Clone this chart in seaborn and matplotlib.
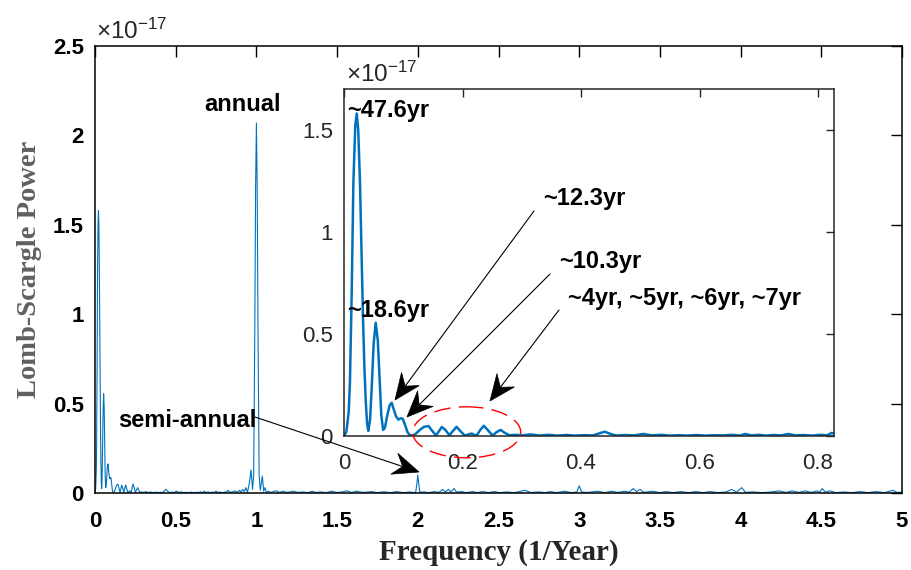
import numpy as np
import pandas as pd
import matplotlib
matplotlib.use("Agg")
import matplotlib.pyplot as plt
import seaborn as sns
from matplotlib.transforms import Affine2D
from matplotlib.patches import Polygon, Ellipse
from matplotlib.lines import Line2D

# ---------------- data (power in units of 1e-17) ----------------
freq = [
    0.000, 0.004, 0.008, 0.010, 0.013, 0.0158, 0.019, 0.0215, 0.024, 0.027,
    0.030, 0.032, 0.0345, 0.0366, 0.039, 0.041, 0.044, 0.047, 0.050, 0.0535,
    0.057, 0.060, 0.063, 0.066, 0.069, 0.073, 0.077, 0.0805, 0.084, 0.088,
    0.092, 0.096, 0.099, 0.103, 0.107, 0.111, 0.116, 0.120, 0.128, 0.135,
    0.1425, 0.149, 0.155, 0.160, 0.165, 0.171, 0.178, 0.184, 0.190, 0.197,
    0.204, 0.210, 0.2155, 0.221, 0.2245, 0.230, 0.236, 0.243, 0.251, 0.257,
    0.2645, 0.271, 0.279, 0.290, 0.300, 0.315, 0.330, 0.345, 0.360, 0.375,
    0.390, 0.405, 0.420, 0.430, 0.440, 0.450, 0.460, 0.475, 0.490, 0.505,
    0.520, 0.535, 0.550, 0.565, 0.580, 0.595, 0.610, 0.625, 0.640, 0.655,
    0.668, 0.677, 0.688, 0.700, 0.712, 0.725, 0.737, 0.750, 0.762, 0.775,
    0.790, 0.805, 0.815, 0.823, 0.835, 0.850, 0.865, 0.880, 0.895, 0.905,
    0.915, 0.925, 0.935, 0.945, 0.957, 0.967, 0.976, 0.983, 0.990, 0.995,
    1.000, 1.005, 1.010, 1.017, 1.024, 1.030, 1.037, 1.045, 1.053, 1.062,
    1.075, 1.090, 1.110, 1.126, 1.140, 1.165, 1.190, 1.230, 1.260, 1.290,
    1.320, 1.343, 1.370, 1.400, 1.430, 1.466, 1.500, 1.530, 1.560, 1.590,
    1.620, 1.660, 1.714, 1.750, 1.790, 1.830, 1.870, 1.910, 1.950, 1.975,
    1.987, 1.994, 2.000, 2.006, 2.013, 2.040, 2.070, 2.100, 2.130, 2.154,
    2.170, 2.190, 2.205, 2.225, 2.240, 2.270, 2.300, 2.340, 2.370, 2.400,
    2.440, 2.470, 2.510, 2.550, 2.600, 2.664, 2.700, 2.750, 2.790, 2.820,
    2.860, 2.910, 2.950, 2.985, 3.000, 3.015, 3.050, 3.116, 3.160, 3.200,
    3.240, 3.280, 3.310, 3.335, 3.355, 3.377, 3.400, 3.457, 3.500, 3.540,
    3.580, 3.630, 3.680, 3.720, 3.770, 3.810, 3.860, 3.910, 3.945, 3.975,
    4.007, 4.030, 4.080, 4.130, 4.180, 4.240, 4.280, 4.320, 4.360, 4.400,
    4.440, 4.470, 4.490, 4.506, 4.525, 4.554, 4.590, 4.640, 4.690, 4.740,
    4.790, 4.840, 4.890, 4.944, 4.970, 5.000,
]
power = [
    0.000, 0.020, 0.120, 0.260, 0.700, 1.240, 1.520, 1.580, 1.500, 1.240,
    0.850, 0.585, 0.330, 0.176, 0.060, 0.025, 0.080, 0.250, 0.450, 0.555,
    0.470, 0.280, 0.100, 0.030, 0.040, 0.100, 0.150, 0.163, 0.130, 0.095,
    0.080, 0.087, 0.085, 0.055, 0.020, 0.004, 0.003, 0.008, 0.030, 0.045,
    0.049, 0.025, 0.003, 0.022, 0.044, 0.030, 0.004, 0.025, 0.045, 0.022,
    0.002, 0.008, 0.012, 0.004, 0.005, 0.030, 0.050, 0.028, 0.002, 0.018,
    0.030, 0.016, 0.004, 0.006, 0.003, 0.008, 0.002, 0.006, 0.002, 0.005,
    0.002, 0.004, 0.003, 0.012, 0.021, 0.010, 0.002, 0.005, 0.003, 0.010,
    0.003, 0.006, 0.002, 0.004, 0.002, 0.005, 0.002, 0.004, 0.003, 0.006,
    0.002, 0.010, 0.003, 0.006, 0.002, 0.005, 0.003, 0.010, 0.003, 0.005,
    0.002, 0.006, 0.003, 0.015, 0.006, 0.005, 0.012, 0.004, 0.015, 0.005,
    0.020, 0.008, 0.030, 0.004, 0.060, 0.129, 0.020, 0.100, 0.900, 1.700,
    2.070, 1.700, 0.900, 0.100, 0.015, 0.050, 0.095, 0.010, 0.030, 0.004,
    0.010, 0.003, 0.010, 0.012, 0.003, 0.010, 0.003, 0.010, 0.003, 0.006,
    0.002, 0.010, 0.003, 0.006, 0.002, 0.010, 0.003, 0.006, 0.012, 0.003,
    0.010, 0.003, 0.008, 0.002, 0.007, 0.002, 0.008, 0.002, 0.006, 0.002,
    0.005, 0.050, 0.100, 0.050, 0.004, 0.006, 0.002, 0.008, 0.003, 0.020,
    0.006, 0.020, 0.006, 0.025, 0.005, 0.008, 0.002, 0.008, 0.002, 0.008,
    0.002, 0.008, 0.002, 0.006, 0.002, 0.015, 0.003, 0.006, 0.002, 0.008,
    0.002, 0.010, 0.002, 0.006, 0.040, 0.006, 0.003, 0.010, 0.002, 0.010,
    0.003, 0.010, 0.005, 0.025, 0.008, 0.020, 0.004, 0.010, 0.002, 0.008,
    0.002, 0.008, 0.002, 0.008, 0.002, 0.008, 0.002, 0.006, 0.020, 0.005,
    0.030, 0.004, 0.006, 0.002, 0.005, 0.012, 0.003, 0.012, 0.003, 0.012,
    0.003, 0.012, 0.005, 0.025, 0.005, 0.012, 0.002, 0.006, 0.002, 0.008,
    0.002, 0.008, 0.002, 0.015, 0.003, 0.005,
]

main_xticks = [0, 0.5, 1, 1.5, 2, 2.5, 3, 3.5, 4, 4.5, 5]
main_xlabels = ["0", "0.5", "1", "1.5", "2", "2.5", "3", "3.5", "4", "4.5", "5"]
main_yticks = [0, 0.5, 1, 1.5, 2, 2.5]
main_ylabels = ["0", "0.5", "1", "1.5", "2", "2.5"]
inset_xticks = [0, 0.2, 0.4, 0.6, 0.8]
inset_xlabels = ["0", "0.2", "0.4", "0.6", "0.8"]
inset_yticks = [0, 0.5, 1, 1.5]
inset_ylabels = ["0", "0.5", "1", "1.5"]

df = pd.DataFrame({"freq": freq, "power": power})

# ---------------- style ----------------
sns.set_style("white")
plt.rcParams["font.family"] = ["Liberation Sans", "DejaVu Sans"]
plt.rcParams["mathtext.fontset"] = "custom"
plt.rcParams["mathtext.rm"] = "Liberation Sans"
plt.rcParams["mathtext.it"] = "Liberation Sans"

BLUE = "#0072BD"
W, H = 911, 570
fig = plt.figure(figsize=(W / 100, H / 100), dpi=100)
fig.patch.set_facecolor("white")
PX = Affine2D().scale(1.0 / W, -1.0 / H).translate(0, 1) + fig.transFigure

ax = fig.add_axes([95 / W, (H - 493) / H, 807 / W, 447 / H])
ins = fig.add_axes([344 / W, (H - 436) / H, 490 / W, 347 / H])

sns.lineplot(data=df, x="freq", y="power", ax=ax, color=BLUE, linewidth=0.8,
             estimator=None, sort=False)
sns.lineplot(data=df, x="freq", y="power", ax=ins, color=BLUE, linewidth=1.8,
             estimator=None, sort=False)

# main axes
ax.set_xlim(0, 5)
ax.set_ylim(0, 2.5)
ax.set_xticks(main_xticks)
ax.set_xticklabels(main_xlabels, fontweight="bold", fontsize=16, color="black")
ax.set_yticks(main_yticks)
ax.set_yticklabels(main_ylabels, fontweight="bold", fontsize=16, color="black")
ax.tick_params(direction="in", length=8, width=1.0, top=True, right=True,
               color="black")
ax.tick_params(axis="x", pad=13)
ax.tick_params(axis="y", pad=8)
for s in ax.spines.values():
    s.set_linewidth(1.1)
    s.set_color("black")
ax.set_xlabel("Frequency (1/Year)", fontsize=21, fontweight="bold",
              family=["Liberation Serif"], color="#262626", va="center")
ax.xaxis.set_label_coords(0.5, -0.134)
ax.set_ylabel("Lomb-Scargle Power", fontsize=20.5, fontweight="bold",
              family=["Liberation Serif"], color="#606060", va="center")
ax.yaxis.set_label_coords(-0.081, 0.5)

# inset axes
ins.set_facecolor("white")
ins.set_xlim(0, 0.827)
ins.set_ylim(0, 1.70)
ins.set_xticks(inset_xticks)
ins.set_xticklabels(inset_xlabels, fontsize=16, color="#262626")
ins.set_yticks(inset_yticks)
ins.set_yticklabels(inset_ylabels, fontsize=16, color="#262626")
ins.tick_params(direction="in", length=6, width=1.0, top=True, right=True,
                color="#262626")
ins.tick_params(axis="x", pad=12)
ins.tick_params(axis="y", pad=8)
for s in ins.spines.values():
    s.set_linewidth(1.1)
    s.set_color("#262626")
ins.set_xlabel("")
ins.set_ylabel("")

# exponent labels
fig.text(96, 39, r"$\times10^{-17}$", transform=PX, fontsize=17.5,
         color="#262626", ha="left", va="baseline")
fig.text(346, 82, r"$\times10^{-17}$", transform=PX, fontsize=17.5,
         color="#262626", ha="left", va="baseline")

# annotations
notes = [
    ("annual", 204, 111),
    ("semi-annual", 118, 427),
    ("~47.6yr", 347, 117),
    ("~18.6yr", 347, 317),
    ("~12.3yr", 543, 205),
    ("~10.3yr", 559, 268),
    ("~4yr, ~5yr, ~6yr, ~7yr", 568, 305),
]
for txt, x, y in notes:
    fig.text(x, y, txt, transform=PX, fontsize=17, fontweight="bold",
             color="black", ha="left", va="baseline", zorder=5)


def px_arrow(start, tip, L=26, Wd=11, notch=0.66):
    sx, sy = start
    tx, ty = tip
    dx, dy = tx - sx, ty - sy
    d = np.hypot(dx, dy)
    ux, uy = dx / d, dy / d
    nx, ny = -uy, ux
    bx, by = tx - L * ux, ty - L * uy
    c1 = (bx + Wd * nx, by + Wd * ny)
    c2 = (bx - Wd * nx, by - Wd * ny)
    nt = (tx - notch * L * ux, ty - notch * L * uy)
    fig.add_artist(Line2D([sx, nt[0]], [sy, nt[1]], transform=PX,
                          color="black", linewidth=0.8, zorder=6))
    fig.add_artist(Polygon([tip, c1, nt, c2], closed=True, transform=PX,
                           facecolor="black", edgecolor="black",
                           linewidth=0.5, zorder=6))


px_arrow((255, 417), (419, 472))
px_arrow((534, 211), (395, 400))
px_arrow((550, 274), (407, 417))
px_arrow((559, 310), (490, 401))

fig.add_artist(Ellipse((466.7, 432.3), 108, 51, transform=PX, fill=False,
                       edgecolor="#FF0000", linewidth=1.0,
                       linestyle=(0, (12, 6)), zorder=6))

fig.savefig("out.png", dpi=100, facecolor="white")
